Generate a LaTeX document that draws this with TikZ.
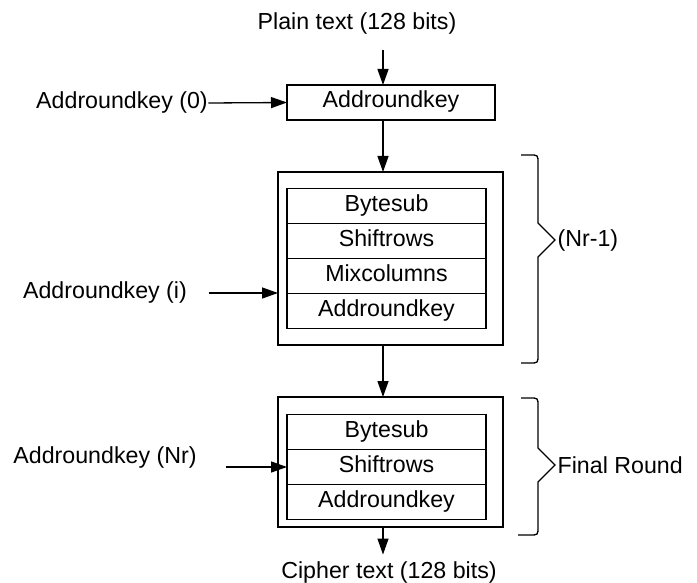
\documentclass[tikz,border=0pt]{standalone}
\usepackage{fontspec}
\setmainfont{Liberation Sans}
\usetikzlibrary{arrows.meta,positioning}

\begin{document}
\begin{tikzpicture}[x=0.5pt, y=-0.5pt, line width=0.65pt,
  font=\fontsize{11.6}{14}\selectfont,
  arr/.style={-{Triangle[length=8pt,width=5.5pt]}},
  txt/.style={inner sep=0pt},
  keybox/.style={draw, minimum width=104pt, minimum height=17.5pt, inner sep=0pt, outer sep=0pt,
    text height=0.74em, text depth=0.21em},
  stage/.style={draw, minimum width=99.5pt, minimum height=17.5pt, inner sep=0pt, outer sep=0pt,
    text height=0.74em, text depth=0.21em},
  roundbox/.style={draw, minimum width=112.5pt, inner sep=0pt, outer sep=0pt}]
  \useasboundingbox (0,0) rectangle (697,583);
  \coordinate (axis) at (383,0);
  % first key addition
  \node[txt] (plain) at (357,23) {Plain text (128 bits)};
  \node[keybox] (ark0) at (391,102.5) {Addroundkey};
  \node[txt] (key0) at (122,103) {Addroundkey (0)};
  \draw[arr, shorten <=8pt] (plain.south -| axis) -- (ark0.north -| axis);
  \draw[arr] (key0.east) -- (ark0.west);
  % rounds 1 .. Nr-1
  \node[roundbox, minimum height=86.5pt] (round) at (390.5,258.5) {};
  \node[stage] (bs1) at (386.5,206) {Bytesub};
  \node[stage, below=0pt of bs1] (sr1) {Shiftrows};
  \node[stage, below=0pt of sr1] (mc1) {Mixcolumns};
  \node[stage, below=0pt of mc1] (ak1) {Addroundkey};
  \node[txt] (keyi) at (105,293) {Addroundkey (i)};
  \coordinate (keyiend) at ([xshift=10.5pt]keyi.east);
  \draw[arr] (keyiend) -- (round.west |- keyiend);
  \draw[arr] (ark0.south -| axis) -- (round.north -| axis);
  % final round
  \node[roundbox, minimum height=65pt] (final) at (390.5,462) {};
  \node[stage] (bs2) at (386.5,432) {Bytesub};
  \node[stage, below=0pt of bs2] (sr2) {Shiftrows};
  \node[stage, below=0pt of sr2] (ak2) {Addroundkey};
  \node[txt] (keynr) at (105,458) {Addroundkey (Nr)};
  \coordinate (keynrend) at ([xshift=14.5pt]keynr.east);
  \draw[arr] (keynrend |- sr2.west) -- (sr2.west);
  \draw[arr] (round.south -| axis) -- (final.north -| axis);
  \node[txt] (cipher) at (389,572) {Cipher text (128 bits)};
  \draw[arr, shorten >=3pt] (final.south -| axis) -- (cipher.north -| axis);
  % braces
  \draw (521,155) -- (530,155) .. controls (538,155) .. (538,163) -- (538,223)
    -- (555,240) node[right, inner sep=1pt] (nrlab) {(Nr-1)}
    -- (538,257) -- (538,355) .. controls (538,363) .. (530,363) -- (521,363);
  \draw (521,398) -- (530,398) .. controls (538,398) .. (538,406) -- (538,448)
    -- (555,465) node[right, inner sep=1pt] (frlab) {Final Round}
    -- (538,482) -- (538,527) .. controls (538,535) .. (530,535) -- (518,535);
\end{tikzpicture}
\end{document}
